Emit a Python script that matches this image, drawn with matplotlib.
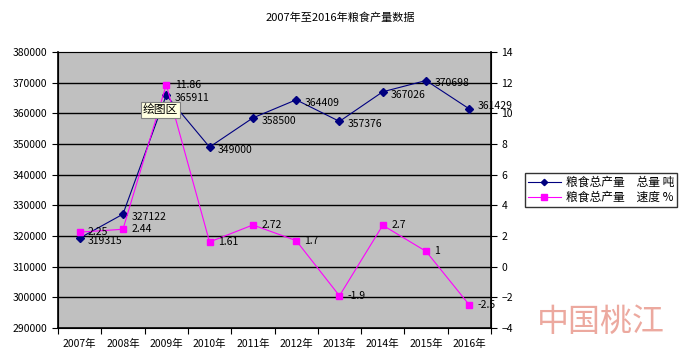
import matplotlib.pyplot as plt

plt.rcParams['font.family'] = ['Noto Sans CJK SC', 'DejaVu Sans']

years = ['2007年', '2008年', '2009年', '2010年', '2011年', '2012年', '2013年', '2014年', '2015年', '2016年']
total = [319315, 327122, 365911, 349000, 358500, 364409, 357376, 367026, 370698, 361429]
speed = [2.25, 2.44, 11.86, 1.61, 2.72, 1.7, -1.9, 2.7, 1, -2.5]
speed_labels = ['2.25', '2.44', '11.86', '1.61', '2.72', '1.7', '-1.9', '2.7', '1', '-2.5']

navy = '#000080'
magenta = '#FF00FF'

fig = plt.figure(figsize=(6.8, 3.6), dpi=100)
ax = fig.add_axes([58/680, 1-328/360, (491-58)/680, (328-52)/360])
ax.set_facecolor('#C0C0C0')
x = list(range(len(years)))

l1, = ax.plot(x, total, color=navy, lw=0.8, marker='D', ms=4, zorder=3)
ax.set_xlim(-0.5, len(years) - 0.5)
ax.set_ylim(290000, 380000)
ax.set_yticks(range(290000, 380001, 10000))
ax.set_yticklabels([str(v) for v in range(290000, 380001, 10000)])
for v in range(300000, 380000, 10000):
    ax.axhline(v, color='black', lw=1, zorder=1)

# category boundaries get the tick marks, names sit in between
ax.set_xticks([i + 0.5 for i in range(-1, len(years))])
ax.set_xticklabels([])
ax.set_xticks(x, minor=True)
ax.set_xticklabels(years, minor=True)
ax.tick_params(axis='x', which='minor', length=0, pad=8, labelsize=7.5)
ax.tick_params(axis='x', which='major', length=4, direction='out')
ax.tick_params(axis='y', labelsize=7.5, length=4, direction='out')

for s in ['left', 'bottom']:
    ax.spines[s].set_color('black')
    ax.spines[s].set_linewidth(1.2)
ax.spines['top'].set_color('#808080')
ax.spines['right'].set_color('black')

ax2 = ax.twinx()
l2, = ax2.plot(x, speed, color=magenta, lw=0.8, marker='s', ms=5, zorder=3)
ax2.set_ylim(-4, 14)
ax2.set_yticks(range(-4, 15, 2))
ax2.tick_params(axis='y', labelsize=7.5, length=4, direction='out')
ax2.spines['right'].set_linewidth(1.2)

for i, v in enumerate(total):
    dy = 2 if i == len(total) - 1 else -2
    ax.annotate(str(v), (i, v), xytext=(6, dy), textcoords='offset points',
                fontsize=7.5, va='center', ha='left', color='black', zorder=5)
for i, v in enumerate(speed):
    ax2.annotate(speed_labels[i], (i, v), xytext=(6, 0), textcoords='offset points',
                 fontsize=7.5, va='center', ha='left', color='black', zorder=5)

fig.text(0.5, 1-18/360, '2007年至2016年粮食产量数据', ha='center', va='center', fontsize=8)

leg = fig.legend([l1, l2], ['粮食总产量　总量 吨', '粮食总产量　速度 %'],
                 loc='center left', bbox_to_anchor=(525/680, 1-190/360),
                 fontsize=8.5, frameon=True, fancybox=False, edgecolor='black',
                 borderpad=0.25, handlelength=2.8, handletextpad=0.4,
                 labelspacing=0.15, borderaxespad=0, markerscale=0.8)
leg.get_frame().set_linewidth(1)

fig.text(143/680, 1-110/360, '绘图区', fontsize=8.5, va='center', ha='left',
         bbox=dict(boxstyle='square,pad=0.15', fc='#FFFFE1', ec='#808080', lw=0.8))

fig.text(601/680, 1-322/360, '中国桃江', fontsize=23, color='#E07060', alpha=0.6,
         ha='center', va='center')

fig.savefig('out.png', dpi=100)
